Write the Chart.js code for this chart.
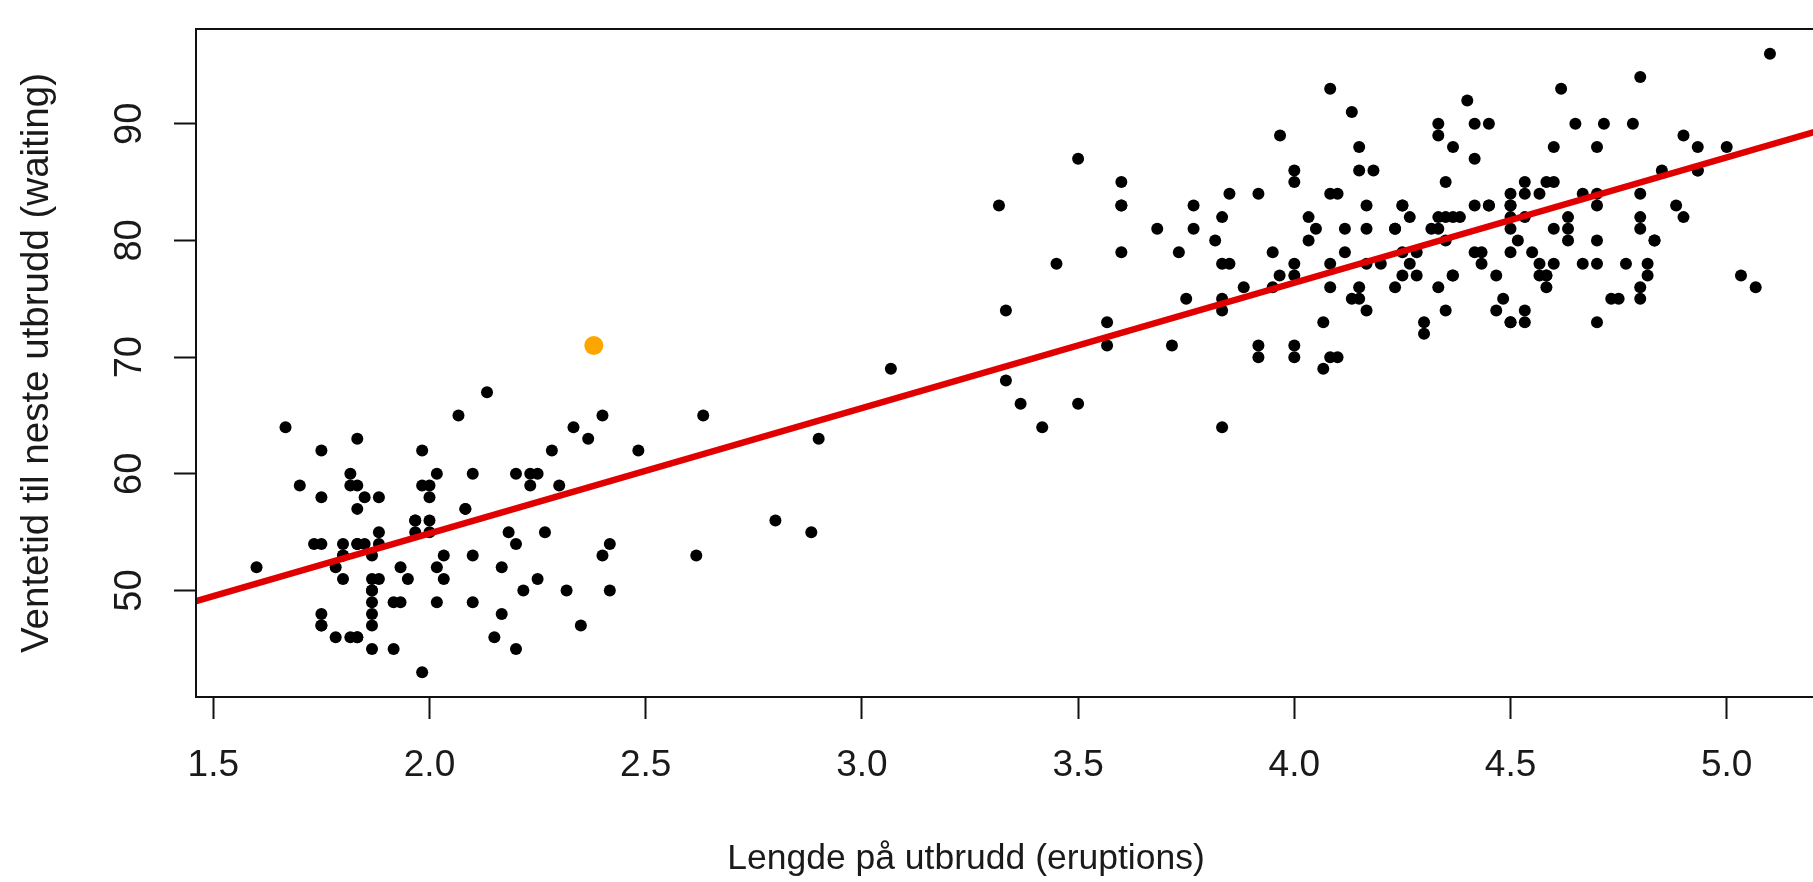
<!DOCTYPE html>
<html>
<head>
<meta charset="utf-8">
<title>Old Faithful</title>
<script src="https://cdn.jsdelivr.net/npm/chart.js@4/dist/chart.umd.min.js"></script>
<style>
    html, body { margin: 0; padding: 0; background: #fff; overflow: hidden; }
    #faithfulChart { display: block; }
</style>
</head>
<body>
<canvas id="faithfulChart" width="1840" height="882"></canvas>
<script>
// Eruption length (minutes) and waiting time to next eruption (minutes)
const eruptions = [
    3.600, 1.800, 3.333, 2.283, 4.533, 2.883, 4.700, 3.600, 1.950, 4.350,
    1.833, 3.917, 4.200, 1.750, 4.700, 2.167, 1.750, 4.800, 1.600, 4.250,
    1.800, 1.750, 3.450, 3.067, 4.533, 3.600, 1.967, 4.083, 3.850, 4.433,
    4.300, 4.467, 3.367, 4.033, 3.833, 2.017, 1.867, 4.833, 1.833, 4.783,
    4.350, 1.883, 4.567, 1.750, 4.533, 3.317, 3.833, 2.100, 4.633, 2.000,
    4.800, 4.716, 1.833, 4.833, 1.733, 4.883, 3.717, 1.667, 4.567, 4.317,
    2.233, 4.500, 1.750, 4.800, 1.817, 4.400, 4.167, 4.700, 2.067, 4.700,
    4.033, 1.967, 4.500, 4.000, 1.983, 5.067, 2.017, 4.567, 3.883, 3.600,
    4.133, 4.333, 4.100, 2.633, 4.067, 4.933, 3.950, 4.517, 2.167, 4.000,
    2.200, 4.333, 1.867, 4.817, 1.833, 4.300, 4.667, 3.750, 1.867, 4.900,
    2.483, 4.367, 2.100, 4.500, 4.050, 1.867, 4.700, 1.783, 4.850, 3.683,
    4.733, 2.300, 4.900, 4.417, 1.700, 4.633, 2.317, 4.600, 1.817, 4.417,
    2.617, 4.067, 4.250, 1.967, 4.600, 3.767, 1.917, 4.500, 2.267, 4.650,
    1.867, 4.167, 2.800, 4.333, 1.833, 4.383, 1.883, 4.933, 2.033, 3.733,
    4.233, 2.233, 4.533, 4.817, 4.333, 1.983, 4.633, 2.017, 5.100, 1.800,
    5.033, 4.000, 2.400, 4.600, 3.567, 4.000, 4.500, 4.083, 1.800, 3.967,
    2.200, 4.150, 2.000, 3.833, 3.500, 4.583, 2.367, 5.000, 1.933, 4.617,
    1.917, 2.083, 4.583, 3.333, 4.167, 4.333, 4.500, 2.417, 4.000, 4.167,
    1.883, 4.583, 4.250, 3.767, 2.033, 4.433, 4.083, 1.833, 4.417, 2.183,
    4.800, 1.833, 4.800, 4.100, 3.966, 4.233, 3.500, 4.366, 2.250, 4.667,
    2.100, 4.350, 4.133, 1.867, 4.600, 1.783, 4.367, 3.850, 1.933, 4.500,
    2.383, 4.700, 1.867, 3.833, 3.417, 4.233, 2.400, 4.800, 2.000, 4.150,
    1.867, 4.267, 1.750, 4.483, 4.000, 4.117, 4.083, 4.267, 3.917, 4.550,
    4.083, 2.417, 4.183, 2.217, 4.450, 1.883, 1.850, 4.283, 3.950, 2.333,
    4.150, 2.350, 4.933, 2.900, 4.583, 3.833, 2.083, 4.367, 2.133, 4.350,
    2.200, 4.450, 3.567, 4.500, 4.150, 3.817, 3.917, 4.450, 2.000, 4.283,
    4.767, 4.533, 1.850, 4.250, 1.983, 2.250, 4.750, 4.117, 2.150, 4.417,
    1.817, 4.467
];
const waiting = [
    79, 54, 74, 62, 85, 55, 88, 85, 51, 85,
    54, 84, 78, 47, 83, 52, 62, 84, 52, 79,
    51, 47, 78, 69, 74, 83, 55, 76, 78, 79,
    73, 77, 66, 80, 74, 52, 48, 80, 59, 90,
    80, 58, 84, 58, 73, 83, 64, 53, 82, 59,
    75, 90, 54, 80, 54, 83, 71, 64, 77, 81,
    59, 84, 48, 82, 60, 92, 78, 78, 65, 73,
    82, 56, 79, 71, 62, 76, 60, 78, 76, 83,
    75, 82, 70, 65, 73, 88, 76, 80, 48, 86,
    60, 90, 50, 78, 63, 72, 84, 75, 51, 82,
    62, 88, 49, 83, 81, 47, 84, 52, 86, 81,
    75, 59, 89, 79, 59, 81, 50, 85, 59, 87,
    53, 69, 77, 56, 88, 81, 45, 82, 55, 90,
    45, 83, 56, 89, 46, 82, 51, 86, 53, 79,
    81, 60, 82, 77, 76, 59, 80, 49, 96, 53,
    77, 77, 65, 81, 71, 70, 81, 93, 53, 89,
    45, 86, 58, 78, 66, 76, 63, 88, 52, 93,
    49, 57, 77, 68, 81, 81, 73, 50, 85, 74,
    55, 77, 83, 83, 51, 78, 84, 46, 83, 55,
    81, 57, 76, 84, 77, 81, 87, 77, 51, 78,
    60, 82, 91, 53, 78, 46, 77, 84, 49, 83,
    71, 80, 49, 75, 64, 76, 53, 94, 55, 76,
    50, 82, 54, 75, 78, 79, 78, 78, 70, 79,
    70, 54, 86, 50, 90, 54, 54, 77, 79, 64,
    75, 47, 86, 63, 85, 82, 57, 82, 67, 74,
    54, 83, 73, 73, 88, 80, 71, 83, 56, 79,
    78, 84, 58, 83, 43, 60, 75, 81, 46, 90,
    46, 74
];

// Highlighted observation (orange)
const highlightX = [2.38];
const highlightY = [71];

// Fitted line, read at the left and right edges of the plot
const fitX = [1.46, 5.24];
const fitY = [49.1, 89.7];

// Axes
const xRange = [1.46, 5.24];
const yRange = [40.88, 98.12];
const xTicks = [1.5, 2.0, 2.5, 3.0, 3.5, 4.0, 4.5, 5.0];
const xTickLabels = ['1.5', '2.0', '2.5', '3.0', '3.5', '4.0', '4.5', '5.0'];
const yTicks = [50, 60, 70, 80, 90];
const yTickLabels = ['50', '60', '70', '80', '90'];

const xTitle = 'Lengde på utbrudd (eruptions)';
const yTitle = 'Ventetid til neste utbrudd (waiting)';

const FONT = "'Liberation Sans', Arial, sans-serif";
const TEXT = '#1a1a1a';

const toPoints = (xs, ys) => xs.map((x, i) => ({ x: x, y: ys[i] }));

// Box around the plot area, rotated y tick labels and the x title (R style)
const rStyle = {
    id: 'rStyle',
    afterDraw(chart) {
        const ctx = chart.ctx;
        const area = chart.chartArea;
        ctx.save();
        ctx.strokeStyle = '#111';
        ctx.lineWidth = 2;
        ctx.strokeRect(area.left, area.top, area.right - area.left, area.bottom - area.top);

        const yScale = chart.scales.y;
        ctx.fillStyle = TEXT;
        ctx.font = '38px ' + FONT;
        ctx.textAlign = 'center';
        ctx.textBaseline = 'alphabetic';
        yTicks.forEach((v, i) => {
            const py = yScale.getPixelForValue(v);
            ctx.save();
            ctx.translate(141, py);
            ctx.rotate(-Math.PI / 2);
            ctx.fillText(yTickLabels[i], 0, 0);
            ctx.restore();
        });

        // x title sits left of the plot centre in the original
        ctx.font = '35.5px ' + FONT;
        ctx.textBaseline = 'middle';
        ctx.fillText(xTitle, 966, 859);
        ctx.restore();
    }
};

const ctx = document.getElementById('faithfulChart').getContext('2d');
const faithfulChart = new Chart(ctx, {
    type: 'scatter',
    data: {
        datasets: [{
            label: 'highlight',
            data: toPoints(highlightX, highlightY),
            backgroundColor: '#ffa500',
            borderWidth: 0,
            pointRadius: 9.5,
            order: 0
        }, {
            type: 'line',
            label: 'fit',
            data: toPoints(fitX, fitY),
            borderColor: '#e00000',
            borderWidth: 6.5,
            pointRadius: 0,
            fill: false,
            tension: 0,
            order: 1
        }, {
            label: 'faithful',
            data: toPoints(eruptions, waiting),
            backgroundColor: '#000',
            borderWidth: 0,
            pointRadius: 6,
            order: 2
        }]
    },
    options: {
        responsive: false,
        animation: false,
        layout: {
            padding: { top: 29, right: 8, left: 0, bottom: 0 }
        },
        plugins: {
            legend: { display: false },
            tooltip: { enabled: false }
        },
        scales: {
            x: {
                type: 'linear',
                min: xRange[0],
                max: xRange[1],
                afterBuildTicks: s => { s.ticks = xTicks.map(v => ({ value: v })); },
                afterFit: s => { s.height = 185; },
                border: { display: false },
                grid: {
                    drawOnChartArea: false,
                    drawTicks: true,
                    tickLength: 22,
                    tickWidth: 2,
                    tickColor: '#111'
                },
                ticks: {
                    color: TEXT,
                    font: { family: FONT, size: 37 },
                    padding: 25,
                    maxRotation: 0,
                    callback: (v) => xTickLabels[xTicks.indexOf(v)]
                },
                title: { display: false }
            },
            y: {
                type: 'linear',
                min: yRange[0],
                max: yRange[1],
                afterBuildTicks: s => { s.ticks = yTicks.map(v => ({ value: v })); },
                afterFit: s => { s.width = 196; },
                border: { display: false },
                grid: {
                    drawOnChartArea: false,
                    drawTicks: true,
                    tickLength: 22,
                    tickWidth: 2,
                    tickColor: '#111'
                },
                ticks: { display: false },
                title: {
                    display: true,
                    text: yTitle,
                    color: TEXT,
                    font: { family: FONT, size: 38.5, lineHeight: 1 },
                    padding: { top: 18, bottom: 0 }
                }
            }
        }
    },
    plugins: [rStyle]
});
</script>
</body>
</html>
